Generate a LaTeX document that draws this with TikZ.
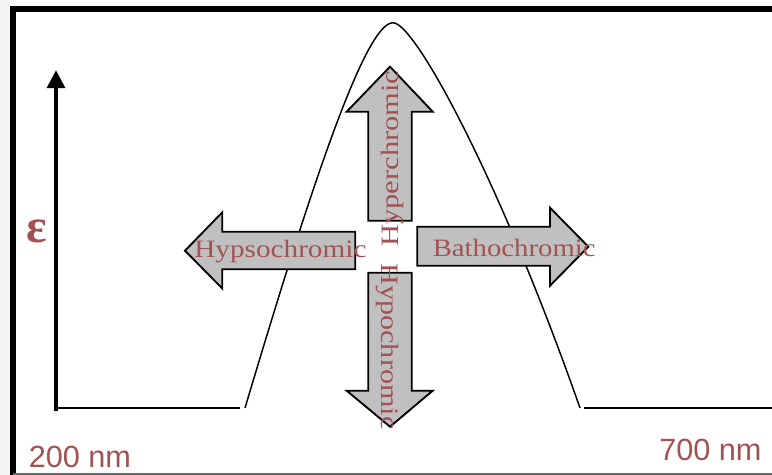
\documentclass[tikz,border=0pt]{standalone}
\usepackage{fontspec}
\setmainfont{Liberation Serif}
\newfontfamily\labelsans{Liberation Sans}
\usetikzlibrary{arrows.meta}
\definecolor{labelred}{RGB}{162,82,82}
\definecolor{arrowgray}{RGB}{192,192,192}
\tikzset{
  frameline/.style={line width=3.8pt, black},
  curveline/.style={line width=1.1pt, black},
  blockarrow/.style={fill=arrowgray, draw=black, line width=1.4pt, line join=miter},
  shiftlabel/.style={inner sep=0pt, text=labelred, font=\fontsize{18.75}{20}\selectfont},
  scalelabel/.style={inner sep=0pt, text=labelred, font=\labelsans\fontsize{23}{24}\selectfont},
}
\begin{document}
\begin{tikzpicture}[x=0.75pt, y=-0.75pt]
\useasboundingbox (0,0) rectangle (772,475);
\fill[white] (0,0) rectangle (772,475);
\fill[black!4] (0,0) rectangle (10,475);

% frame
\draw[frameline] (13,475) -- (13,9) -- (772,9);
\draw[line width=1.1pt, black!60] (13,474) -- (772,474);

% absorbance axis
\coordinate (axbot) at (56,411);
\coordinate (axtop) at (56,70);
\draw[line width=3.6pt, -{Triangle[length=13.5pt, width=13pt]}] (axbot) -- (axtop);

% baselines and absorption band
\coordinate (bl0) at (56,408);
\coordinate (bl1) at (240,408);
\coordinate (br0) at (584,408);
\coordinate (br1) at (772,408);
\coordinate (bandL) at (245,408);
\coordinate (peak) at (393,22.7);
\coordinate (bandR) at (580,408);
\draw[curveline] (bl0) -- (bl1);
\draw[curveline] (br0) -- (br1);
\draw[curveline] (bandL) .. controls (310,190) and (365,22.7) .. (peak)
  .. controls (415,22.7) and (500,180) .. (bandR);

% block arrows
\draw[blockarrow] (368.3,220.7) -- (368.3,111.7) -- (346.7,111.7) -- (390,66.7)
  -- (432.7,111.7) -- (411.7,111.7) -- (411.7,220.7) -- cycle;
\draw[blockarrow] (368.3,272.7) -- (368.3,390.7) -- (346.7,390.7) -- (390,426.7)
  -- (432.7,390.7) -- (411.7,390.7) -- (411.7,272.7) -- cycle;
\draw[blockarrow] (355.3,231.7) -- (222.3,231.7) -- (222.3,212.3) -- (185,250.7)
  -- (222.3,288.5) -- (222.3,269.3) -- (355.3,269.3) -- cycle;
\draw[blockarrow] (417.3,226.7) -- (550,226.7) -- (550,207.7) -- (588.3,246.7)
  -- (550,285.7) -- (550,265.7) -- (417.3,265.7) -- cycle;

% arrow labels
\node[shiftlabel, anchor=base west] (hypso) at (194,257.7) {\scalebox{1.17}[1]{Hypsochromic}};
\node[shiftlabel, anchor=base west] (batho) at (432.5,256) {\scalebox{1.15}[1]{Bathochromic}};
\node[shiftlabel, anchor=base west, rotate=90] (hyper) at (398.3,247) {\scalebox{1.22}[1]{Hyperchromic}};
\node[shiftlabel, anchor=base west, rotate=-90] (hypo) at (381.7,263) {\scalebox{1.21}[1]{Hypochromic}};

% axis labels
\node[text=labelred, inner sep=0pt, font=\bfseries\fontsize{36}{36}\selectfont] (eps) at (36.7,231) {ε};
\node[scalelabel, anchor=base west] (lo) at (28.5,467.3) {200 nm};
\node[scalelabel, anchor=base west] (hi) at (659,460) {700 nm};
\end{tikzpicture}
\end{document}
